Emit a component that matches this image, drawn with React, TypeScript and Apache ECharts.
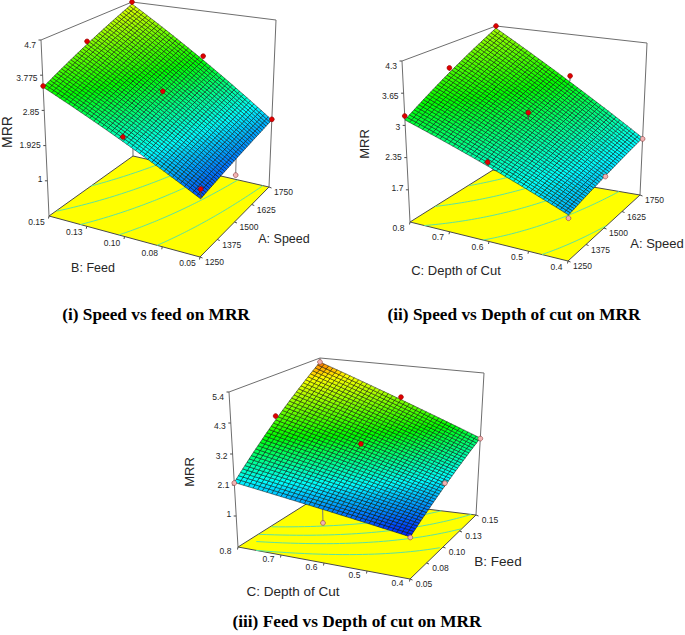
import React, { useEffect, useRef } from "react";
import * as echarts from "echarts";

// ---------- tick labels ----------
const speedTicks = [1250, 1375, 1500, 1625, 1750];
const speedLabels = ["1250", "1375", "1500", "1625", "1750"];
const feedTicks = [0.05, 0.075, 0.1, 0.125, 0.15];
const feedLabels = ["0.05", "0.08", "0.10", "0.13", "0.15"];
const depthTicks = [0.4, 0.5, 0.6, 0.7, 0.8];
const depthLabels = ["0.4", "0.5", "0.6", "0.7", "0.8"];
const mrrTicks1 = [1, 1.925, 2.85, 3.775, 4.7];
const mrrLabels1 = ["1", "1.925", "2.85", "3.775", "4.7"];
const mrrTicks2 = [1.7, 2.35, 3, 3.65, 4.3];
const mrrLabels2 = ["1.7", "2.35", "3", "3.65", "4.3"];
const mrrTicks3 = [1, 2.1, 3.2, 4.3, 5.4];
const mrrLabels3 = ["1", "2.1", "3.2", "4.3", "5.4"];

// ---------- surface readings: [[front, right], [left, back]] ----------
const surface1 = [[1.49, 1.93], [3.46, 4.64]];
const surface2 = [[1.9, 2.27], [3.11, 4.25]];
const surface3 = [[1.33, 2.88], [2.19, 5.24]];

// ---------- design points: [u, v, MRR, MRR at the foot of the stem] ----------
const above1 = [[1250, 0.15, 3.49, 3.47], [1750, 0.15, 4.7, 4.66], [1750, 0.05, 1.95, 1.93], [1250, 0.05, 1.73, 1.5], [1500, 0.15, 4.13, 4.08], [1750, 0.1, 3.4, 3.33], [1250, 0.1, 2.59, 2.54], [1500, 0.1, 3.11, 3.02]];
const below1 = [[1500, 0.05, 1.29, 1.71]];
const above2 = [[1250, 0.8, 3.19, 3.13], [1750, 0.8, 4.3, 4.26], [1500, 0.8, 3.78, 3.72], [1750, 0.6, 3.39, 3.28], [1250, 0.6, 2.58, 2.52], [1500, 0.6, 3.09, 2.93]];
const below2 = [[1750, 0.4, 2.25, 2.27], [1250, 0.4, 1.84, 1.9], [1500, 0.4, 2.07, 2.09]];
const above3 = [[0.1, 0.8, 3.86, 3.76], [0.15, 0.6, 4.16, 4.08], [0.1, 0.6, 3.23, 3.15]];
const below3 = [[0.05, 0.8, 2.17, 2.19], [0.15, 0.8, 5.24, 5.24], [0.15, 0.4, 2.86, 2.88], [0.05, 0.4, 1.31, 1.33], [0.1, 0.4, 2.21, 2.21], [0.05, 0.6, 1.29, 1.76]];

// ---------- contour levels ----------
const levels1 = [2.05, 2.55, 3.05, 3.55, 4.05];
const levels2 = [2.1, 2.55, 3.0, 3.45, 3.9];
const levels3 = [2.1, 2.55, 2.95, 3.4];

// ---------- layout of the three boxes ----------
type P = [number, number];
const panels = [
  {
    uDomain: [1250, 1750], vDomain: [0.05, 0.15], zDomain: [0.075, 4.7],
    floor: { F: [200, 257], R: [269, 187], L: [49, 216], B: [133, 156] },
    top: { F: [202, 67], R: [276, 20], L: [41, 40], B: [132, 2] },
    surface: surface1, above: above1, below: below1, levels: levels1,
    uTicks: speedTicks, uLabels: speedLabels, vTicks: feedTicks, vLabels: feedLabels, zTicks: mrrTicks1, zLabels: mrrLabels1,
    uOff: [14.5, 5], vOff: [-12.5, 6],
    uTitle: "A: Speed", uPos: [284, 239], vTitle: "B: Feed", vPos: [93, 268], zPos: [7, 132],
    titleSize: 12.5, zSize: 14,
  },
  {
    uDomain: [1250, 1750], vDomain: [0.4, 0.8], zDomain: [1.05, 4.3],
    floor: { F: [568, 261], R: [640, 195], L: [410, 222], B: [493, 170] },
    top: { F: [570, 85], R: [647, 43], L: [402, 61], B: [496, 26] },
    surface: surface2, above: above2, below: below2, levels: levels2,
    uTicks: speedTicks, uLabels: speedLabels, vTicks: depthTicks, vLabels: depthLabels, zTicks: mrrTicks2, zLabels: mrrLabels2,
    uOff: [14.5, 5], vOff: [-11.5, 5.5],
    uTitle: "A: Speed", uPos: [657, 243], vTitle: "C: Depth of Cut", vPos: [456, 270], zPos: [364, 144],
    titleSize: 13, zSize: 13,
  },
  {
    uDomain: [0.05, 0.15], vDomain: [0.4, 0.8], zDomain: [-0.1, 5.4],
    floor: { F: [410, 579], R: [476, 515], L: [238, 547], B: [319, 496] },
    top: { F: [411, 417], R: [484, 373], L: [229, 392], B: [320, 358] },
    surface: surface3, above: above3, below: below3, levels: levels3,
    uTicks: feedTicks, uLabels: feedLabels, vTicks: depthTicks, vLabels: depthLabels, zTicks: mrrTicks3, zLabels: mrrLabels3,
    uOff: [14, 4.5], vOff: [-12.5, 4],
    uTitle: "B: Feed", uPos: [498, 561], vTitle: "C: Depth of Cut", vPos: [293, 591], zPos: [189, 472],
    titleSize: 13.5, zSize: 13,
  },
];

const captions = [
  { text: "(i) Speed vs feed on MRR", x: 156, y: 316 },
  { text: "(ii) Speed vs Depth of cut on MRR", x: 514, y: 316 },
  { text: "(iii) Feed vs Depth of cut on MRR", x: 357, y: 623 },
];

const colorStops = [1.2, 2.25, 3.3, 4.8, 5.6];
const colorRamp = ["#0000ff", "#00ffff", "#00ff00", "#ffff00", "#ff0000"];
const GRID = 38;
const SANS = "'Liberation Sans', Arial, sans-serif";
const SERIF = "'Liberation Serif', 'Times New Roman', serif";
const AXIS = "#6e6e6e";

const lm = echarts.number.linearMap;

function rampColor(z: number) {
  const c = Math.max(colorStops[0], Math.min(colorStops[colorStops.length - 1], z));
  let i = 0;
  while (i < colorStops.length - 2 && c > colorStops[i + 1]) i++;
  const t = (c - colorStops[i]) / (colorStops[i + 1] - colorStops[i]);
  return echarts.color.lerp(t, [colorRamp[i], colorRamp[i + 1]]) as string;
}

function quad(q: any, u: number, v: number): P {
  const f = (k: number) =>
    (1 - u) * (1 - v) * q.F[k] + u * (1 - v) * q.R[k] + (1 - u) * v * q.L[k] + u * v * q.B[k];
  return [f(0), f(1)];
}

function project(p: any, u: number, v: number, z: number): P {
  const w = lm(z, p.zDomain, [0, 1], false);
  const a = quad(p.floor, u, v);
  const b = quad(p.top, u, v);
  return [a[0] + (b[0] - a[0]) * w, a[1] + (b[1] - a[1]) * w];
}

function surfaceZ(p: any, u: number, v: number) {
  const s = p.surface;
  return (1 - u) * (1 - v) * s[0][0] + u * (1 - v) * s[0][1] + (1 - u) * v * s[1][0] + u * v * s[1][1];
}

const uN = (p: any, x: number) => lm(x, p.uDomain, [0, 1], false);
const vN = (p: any, x: number) => lm(x, p.vDomain, [0, 1], false);

function layer(z: number, data: any[], draw: (params: any, api: any) => any) {
  return {
    type: "custom",
    coordinateSystem: "none",
    silent: true,
    animation: false,
    z,
    data,
    renderItem: draw,
  };
}

const seg = (a: P, b: P, stroke = AXIS, lineWidth = 1) => ({
  type: "line",
  shape: { x1: a[0], y1: a[1], x2: b[0], y2: b[1] },
  style: { stroke, lineWidth },
});

const label = (text: string, x: number, y: number, size: number, align = "center", rotation = 0) => ({
  type: "text",
  x,
  y,
  rotation,
  style: { text, x: 0, y: 0, fill: "#262626", fontFamily: SANS, fontSize: size, align, verticalAlign: "middle" },
});

function panelSeries(p: any, base: number) {
  const cells: number[][] = [];
  for (let i = 0; i < GRID; i++) for (let j = 0; j < GRID; j++) cells.push([i, j]);

  const stem = (api: any, color: string) => {
    const u = uN(p, api.value(0));
    const v = vN(p, api.value(1));
    return seg(project(p, u, v, api.value(2)), project(p, u, v, api.value(3)), color);
  };

  return [
    // box behind the floor
    layer(base, [0], () => ({
      type: "group",
      children: [
        seg(p.top.L, p.top.B),
        seg(p.top.B, p.top.R),
        seg(p.floor.L, p.top.L),
        seg(p.floor.R, p.top.R),
        seg(p.floor.B, p.top.B),
      ],
    })),
    // floor
    layer(base + 1, [0], () => ({
      type: "polygon",
      shape: { points: [p.floor.L, p.floor.F, p.floor.R, p.floor.B] },
      style: { fill: "#ffff00", stroke: "#4a4a4a", lineWidth: 1 },
    })),
    // contours
    layer(base + 2, p.levels, (_: any, api: any) => {
      const level = api.value(0);
      const pts: P[] = [];
      for (let k = 0; k <= 60; k++) {
        const u = k / 60;
        const a = surfaceZ(p, u, 0);
        const b = surfaceZ(p, u, 1) - a;
        const v = (level - a) / b;
        if (v >= 0 && v <= 1) pts.push(quad(p.floor, u, v));
      }
      if (pts.length < 2) return null;
      return { type: "polyline", shape: { points: pts }, style: { fill: "none", stroke: "#5be3a2", lineWidth: 1 } };
    }),
    // ticks
    layer(base + 3, p.uTicks, (_: any, api: any) => {
      const a = quad(p.floor, uN(p, api.value(0)), 0);
      return seg(a, [a[0] + 2.5, a[1] + 1], "#4a4a4a");
    }),
    layer(base + 3, p.vTicks, (_: any, api: any) => {
      const a = quad(p.floor, 0, vN(p, api.value(0)));
      return seg(a, [a[0] - 0.5, a[1] + 2.5], "#4a4a4a");
    }),
    layer(base + 3, p.zTicks, (_: any, api: any) => {
      const a = project(p, 0, 1, api.value(0));
      return seg(a, [a[0] - 2.5, a[1]], "#4a4a4a");
    }),
    // stems of the points below the surface
    layer(base + 4, p.below, (_: any, api: any) => stem(api, "#7a7a7a")),
    // surface
    layer(base + 5, cells, (_: any, api: any) => {
      const i = api.value(0);
      const j = api.value(1);
      const u0 = i / GRID, u1 = (i + 1) / GRID, v0 = j / GRID, v1 = (j + 1) / GRID;
      const corner = (u: number, v: number) => project(p, u, v, surfaceZ(p, u, v));
      return {
        type: "polygon",
        shape: { points: [corner(u0, v0), corner(u1, v0), corner(u1, v1), corner(u0, v1)] },
        style: {
          fill: rampColor(surfaceZ(p, (u0 + u1) / 2, (v0 + v1) / 2)),
          stroke: "rgba(0,0,0,0.72)",
          lineWidth: 0.65,
        },
      };
    }),
    // stems of the points above the surface
    layer(base + 6, p.above, (_: any, api: any) => stem(api, "#4f4f4f")),
    // design points
    layer(base + 7, p.below, (_: any, api: any) => {
      const a = project(p, uN(p, api.value(0)), vN(p, api.value(1)), api.value(2));
      return { type: "circle", shape: { cx: a[0], cy: a[1], r: 2.4 }, style: { fill: "#f2b3b3", stroke: "#8a3a3a", lineWidth: 0.6 } };
    }),
    layer(base + 7, p.above, (_: any, api: any) => {
      const a = project(p, uN(p, api.value(0)), vN(p, api.value(1)), api.value(2));
      return { type: "circle", shape: { cx: a[0], cy: a[1], r: 2.4 }, style: { fill: "#e00000", stroke: "#900000", lineWidth: 0.6 } };
    }),
    // tick labels
    layer(base + 8, p.uTicks, (params: any, api: any) => {
      const a = quad(p.floor, uN(p, api.value(0)), 0);
      return label(p.uLabels[params.dataIndex], a[0] + p.uOff[0], a[1] + p.uOff[1], 8.5);
    }),
    layer(base + 8, p.vTicks, (params: any, api: any) => {
      const a = quad(p.floor, 0, vN(p, api.value(0)));
      return label(p.vLabels[params.dataIndex], a[0] + p.vOff[0], a[1] + p.vOff[1], 8.5);
    }),
    layer(base + 8, p.zTicks, (params: any, api: any) => {
      const z = api.value(0);
      const a = project(p, 0, 1, z);
      const w = lm(z, p.zDomain, [0, 1], false);
      return label(p.zLabels[params.dataIndex], a[0] - 5, a[1] - 3.75 + 8.75 * w, 8.5, "right");
    }),
    // axis titles
    layer(base + 8, [0], () => ({
      type: "group",
      children: [
        label(p.uTitle, p.uPos[0], p.uPos[1], p.titleSize),
        label(p.vTitle, p.vPos[0], p.vPos[1], p.titleSize),
        label("MRR", p.zPos[0], p.zPos[1], p.zSize, "center", Math.PI / 2),
      ],
    })),
  ];
}

export default function App() {
  const ref = useRef<HTMLDivElement>(null);
  useEffect(() => {
    document.body.style.margin = "0";
    const chart = echarts.init(ref.current!, undefined, { renderer: "svg" });
    chart.setOption({
      animation: false,
      backgroundColor: "#ffffff",
      title: captions.map((c) => ({
        text: c.text,
        left: c.x,
        top: c.y - 10,
        textAlign: "center",
        padding: 0,
        textStyle: { fontFamily: SERIF, fontWeight: "bold", fontSize: 17.3, color: "#000" },
      })),
      series: panels.flatMap((p, i) => panelSeries(p, 10 + i * 20)),
    });
    return () => chart.dispose();
  }, []);
  return <div ref={ref} style={{ width: 685, height: 635 }} />;
}
